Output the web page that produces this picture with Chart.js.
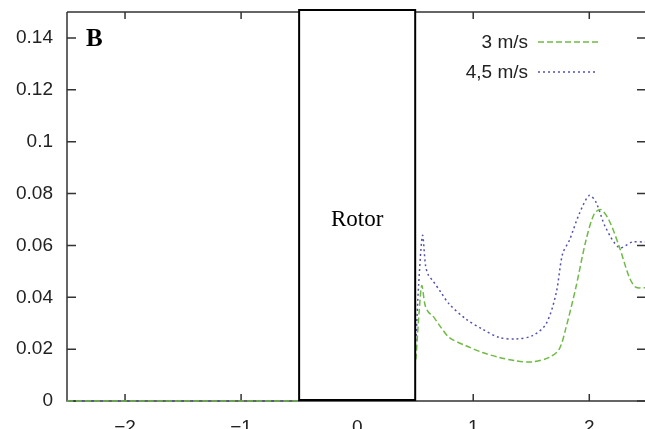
<!DOCTYPE html>
<html>
<head>
<meta charset="utf-8">
<script src="https://cdn.jsdelivr.net/npm/chart.js@4.4.1/dist/chart.umd.min.js"></script>
<style>
	body { margin: 0; background: #fff; }
	canvas { display: block; }
</style>
</head>
<body>
<canvas id="chart" width="645" height="429"></canvas>
<script>
// Data (x: position, y: value)
const x3 = [-2.5, -0.5, 0, 0.506, 0.535, 0.557, 0.585, 0.615, 0.65, 0.72, 0.793, 0.937, 1.08, 1.224, 1.368, 1.511, 1.655, 1.741, 1.8, 1.885, 1.971, 2.043, 2.1, 2.17, 2.26, 2.345, 2.4, 2.48];
const y3 = [0, 0, null, 0.016, 0.035, 0.0445, 0.037, 0.0342, 0.0329, 0.0285, 0.0245, 0.0213, 0.0187, 0.0168, 0.0155, 0.0151, 0.0168, 0.020, 0.0284, 0.0439, 0.0619, 0.0722, 0.0738, 0.0697, 0.0593, 0.0477, 0.0439, 0.0437];
const x45 = [-2.5, -0.5, 0, 0.506, 0.53, 0.563, 0.59, 0.615, 0.65, 0.72, 0.793, 0.937, 1.08, 1.224, 1.368, 1.511, 1.627, 1.713, 1.77, 1.828, 1.914, 2.0, 2.057, 2.14, 2.259, 2.37, 2.48];
const y45 = [0, 0, null, 0.0232, 0.045, 0.0639, 0.052, 0.0484, 0.0465, 0.042, 0.0374, 0.0316, 0.0277, 0.0245, 0.0239, 0.0252, 0.0297, 0.0413, 0.0568, 0.0619, 0.0722, 0.0793, 0.0767, 0.067, 0.0591, 0.0613, 0.0613];
const seriesLabels = ["3 m/s", "4,5 m/s"];
const xTicks = [-2, -1, 0, 1, 2];
const xTickLabels = ["\u22122", "\u22121", "0", "1", "2"];
const yTicks = [0, 0.02, 0.04, 0.06, 0.08, 0.1, 0.12, 0.14];
const yTickLabels = ["0", "0.02", "0.04", "0.06", "0.08", "0.1", "0.12", "0.14"];
const rotorRange = [-0.5, 0.5];

const green = "rgb(112, 186, 70)";
const blue = "rgb(82, 82, 170)";
const axisColor = "#333";

function toPoints(xs, ys) {
	return xs.map((x, i) => ({ x: x, y: ys[i] }));
}

// Draws the gnuplot-style frame, inward ticks and labels
const framePlugin = {
	id: "frame",
	beforeDatasetsDraw(chart) {
		const { ctx, chartArea: a, scales } = chart;
		const xs = scales.x, ys = scales.y;
		ctx.save();
		ctx.strokeStyle = axisColor;
		ctx.lineWidth = 1.5;
		ctx.beginPath();
		ctx.moveTo(a.left, a.top);
		ctx.lineTo(a.left, a.bottom);
		ctx.lineTo(a.right, a.bottom);
		ctx.moveTo(a.left, a.top);
		ctx.lineTo(a.right, a.top);
		ctx.stroke();

		// ticks
		ctx.beginPath();
		xTicks.forEach((v) => {
			const px = xs.getPixelForValue(v);
			ctx.moveTo(px, a.bottom);
			ctx.lineTo(px, a.bottom - 7);
			ctx.moveTo(px, a.top);
			ctx.lineTo(px, a.top + 7);
		});
		yTicks.forEach((v) => {
			const py = ys.getPixelForValue(v);
			ctx.moveTo(a.left, py);
			ctx.lineTo(a.left + 9, py);
			ctx.moveTo(a.right, py);
			ctx.lineTo(a.right - 8, py);
		});
		ctx.stroke();

		// tick labels
		ctx.fillStyle = "#222";
		ctx.font = "19px 'Liberation Sans', Arial, sans-serif";
		ctx.textAlign = "right";
		ctx.textBaseline = "middle";
		yTicks.forEach((v, i) => {
			ctx.fillText(yTickLabels[i], 53, ys.getPixelForValue(v));
		});
		ctx.textAlign = "center";
		ctx.textBaseline = "alphabetic";
		xTicks.forEach((v, i) => {
			ctx.fillText(xTickLabels[i], xs.getPixelForValue(v), 433);
		});
		ctx.restore();
	},
	afterDatasetsDraw(chart) {
		const { ctx, chartArea: a, scales } = chart;
		const xs = scales.x;
		ctx.save();

		// rotor box
		const l = xs.getPixelForValue(rotorRange[0]);
		const r = xs.getPixelForValue(rotorRange[1]);
		ctx.fillStyle = "#fff";
		ctx.fillRect(l, a.top - 2, r - l, a.bottom - a.top + 2);
		ctx.strokeStyle = "#000";
		ctx.lineWidth = 2;
		ctx.strokeRect(l, a.top - 2, r - l, a.bottom - a.top + 1);
		ctx.fillStyle = "#000";
		ctx.font = "23px 'Liberation Serif', 'Times New Roman', serif";
		ctx.textAlign = "center";
		ctx.textBaseline = "alphabetic";
		ctx.fillText("Rotor", (l + r) / 2, 226);

		// panel letter
		ctx.font = "bold 25px 'Liberation Serif', 'Times New Roman', serif";
		ctx.textAlign = "left";
		ctx.fillText("B", 86, 46);

		// legend: text on the left, line sample on the right
		ctx.font = "19px 'Liberation Sans', Arial, sans-serif";
		ctx.fillStyle = "#222";
		ctx.textAlign = "right";
		const rows = [
			{ y: 42, base: 48, end: 599 },
			{ y: 72, base: 78, end: 596 },
		];
		chart.data.datasets.forEach((ds, i) => {
			const row = rows[i];
			ctx.fillText(ds.label, 528, row.base);
			ctx.strokeStyle = ds.borderColor;
			ctx.lineWidth = ds.borderWidth;
			ctx.setLineDash(ds.borderDash);
			ctx.beginPath();
			ctx.moveTo(538, row.y);
			ctx.lineTo(row.end, row.y);
			ctx.stroke();
		});
		ctx.restore();
	},
};

const ctx = document.getElementById("chart").getContext("2d");
new Chart(ctx, {
	type: "line",
	data: {
		datasets: [
			{
				label: seriesLabels[0],
				data: toPoints(x3, y3),
				borderColor: green,
				borderWidth: 1.5,
				borderDash: [6, 3],
				pointRadius: 0,
				tension: 0.3,
				clip: false,
			},
			{
				label: seriesLabels[1],
				data: toPoints(x45, y45),
				borderColor: blue,
				borderWidth: 1.5,
				borderDash: [2, 3],
				pointRadius: 0,
				tension: 0.3,
				clip: false,
			},
		],
	},
	options: {
		responsive: false,
		animation: false,
		spanGaps: false,
		layout: { padding: { left: 67, top: 12, right: 0, bottom: 28 } },
		plugins: { legend: { display: false }, tooltip: { enabled: false } },
		scales: {
			x: { type: "linear", min: -2.5, max: 2.48, display: false },
			y: { type: "linear", min: 0, max: 0.15, display: false },
		},
	},
	plugins: [framePlugin],
});
</script>
</body>
</html>
